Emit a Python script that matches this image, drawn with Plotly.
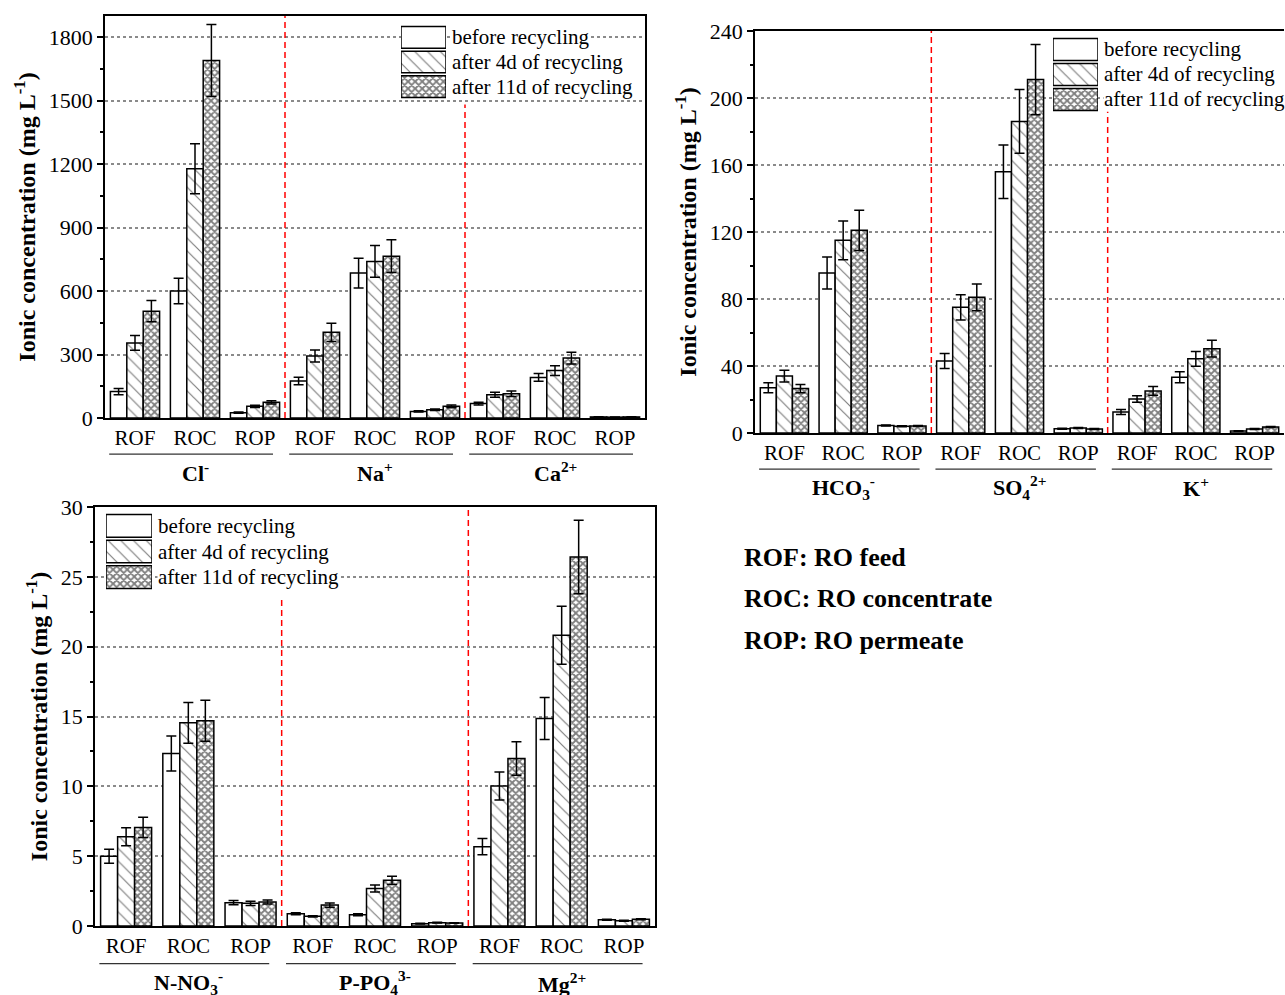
import plotly.graph_objects as go

W, H = 1285, 995
FONT = "Liberation Serif, Times New Roman, serif"

cats = ["ROF", "ROC", "ROP"] * 3
series_names = ["before recycling", "after 4d of recycling", "after 11d of recycling"]

# Panel 1 : Cl-, Na+, Ca2+
p1_ions = ["Cl<sup>-</sup>", "Na<sup>+</sup>", "Ca<sup>2+</sup>"]
p1_before = [125, 600, 25, 175, 685, 31, 68, 192, 5]
p1_before_err = [15, 60, 3, 18, 70, 3, 6, 18, 1]
p1_4d = [355, 1178, 55, 293, 740, 39, 110, 224, 4]
p1_4d_err = [35, 118, 5, 28, 75, 4, 12, 23, 1]
p1_11d = [505, 1690, 74, 405, 765, 55, 115, 283, 5]
p1_11d_err = [50, 170, 8, 43, 77, 6, 13, 28, 1]

# Panel 2 : HCO3-, SO4, K+
p2_ions = ["HCO<sub>3</sub><sup>-</sup>", "SO<sub>4</sub><sup>2+</sup>", "K<sup>+</sup>"]
p2_before = [27, 95.5, 4.5, 43, 156, 2.6, 12.6, 33.3, 1.2]
p2_before_err = [3, 9.5, 0.3, 4.5, 16, 0.3, 1.5, 3.3, 0.2]
p2_4d = [34, 115, 4.0, 75, 186, 3.0, 20.3, 44.3, 2.4]
p2_4d_err = [3.5, 11.5, 0.3, 7.5, 19, 0.3, 2, 4.4, 0.3]
p2_11d = [26.5, 121, 4.2, 81, 211, 2.4, 25.1, 50.3, 3.6]
p2_11d_err = [2.5, 12, 0.3, 8, 21, 0.3, 2.6, 5, 0.3]

# Panel 3 : N-NO3-, P-PO4 3-, Mg2+
p3_ions = ["N-NO<sub>3</sub><sup>-</sup>", "P-PO<sub>4</sub><sup>3-</sup>", "Mg<sup>2+</sup>"]
p3_before = [5.0, 12.35, 1.67, 0.88, 0.81, 0.17, 5.68, 14.86, 0.45]
p3_before_err = [0.5, 1.25, 0.15, 0.07, 0.07, 0.02, 0.58, 1.5, 0.04]
p3_4d = [6.39, 14.55, 1.62, 0.69, 2.69, 0.24, 10.02, 20.82, 0.38]
p3_4d_err = [0.65, 1.46, 0.15, 0.05, 0.25, 0.02, 1.0, 2.08, 0.04]
p3_11d = [7.06, 14.69, 1.72, 1.5, 3.27, 0.21, 12.0, 26.42, 0.48]
p3_11d_err = [0.72, 1.47, 0.15, 0.15, 0.3, 0.02, 1.2, 2.63, 0.04]

notes = ["ROF: RO feed", "ROC: RO concentrate", "ROP: RO permeate"]

patterns = [
    dict(shape="", bgcolor="white"),
    dict(shape="\\", size=9, solidity=0.13, fgcolor="black", bgcolor="white", fillmode="overlay"),
    dict(shape="x", size=5, solidity=0.6, fgcolor="black", bgcolor="white", fillmode="overlay"),
]

def px_x(px):
    return px / W

def px_y(py):
    return 1 - py / H

# panel geometry (pixel boxes): left, right, top, bottom
panels = [
    dict(box=(105, 645, 16, 418), rng=[0, 1900], dtick=300, mdtick=150, ions=p1_ions,
         data=[(p1_before, p1_before_err), (p1_4d, p1_4d_err), (p1_11d, p1_11d_err)],
         legend=(401, 446, 25, 99), red=[(2.5, 1.0), (5.5, 0.78)], mirror_y=True),
    dict(box=(755, 1284, 31, 433), rng=[0, 240], dtick=40, mdtick=20, ions=p2_ions,
         data=[(p2_before, p2_before_err), (p2_4d, p2_4d_err), (p2_11d, p2_11d_err)],
         legend=(1053, 1098, 37, 112), red=[(2.5, 1.0), (5.5, 0.80)], mirror_y=False),
    dict(box=(95, 655, 507, 926), rng=[0, 30], dtick=5, mdtick=2.5, ions=p3_ions,
         data=[(p3_before, p3_before_err), (p3_4d, p3_4d_err), (p3_11d, p3_11d_err)],
         legend=(106, 152, 513, 590), red=[(2.5, 0.78), (5.5, 1.0)], mirror_y=True),
]

fig = go.Figure()
xpos = list(range(len(cats)))
layout = {}
shapes = []
annotations = []

for i, p in enumerate(panels):
    n = i + 1
    xa = "x" if n == 1 else f"x{n}"
    ya = "y" if n == 1 else f"y{n}"
    xkey = "xaxis" if n == 1 else f"xaxis{n}"
    ykey = "yaxis" if n == 1 else f"yaxis{n}"
    l, r, t, b = p["box"]
    for (vals, errs), name, pat in zip(p["data"], series_names, patterns):
        fig.add_trace(go.Bar(
            x=xpos, y=vals, name=name, xaxis=xa, yaxis=ya, showlegend=False,
            marker=dict(color="white", line=dict(color="black", width=1.5), pattern=pat),
            error_y=dict(type="data", array=errs, visible=True, color="black",
                         thickness=1.5, width=5),
        ))
    layout[xkey] = dict(
        domain=[px_x(l), px_x(r)], anchor=ya, range=[-0.5, 8.5], automargin=False,
        tickmode="array", tickvals=xpos, ticktext=cats, ticks="",
        showline=True, linecolor="black", linewidth=1.5, mirror=True,
        showgrid=False, zeroline=False,
        tickfont=dict(family=FONT, size=21, color="black"),
    )
    layout[ykey] = dict(
        domain=[px_y(b), px_y(t)], anchor=xa, range=p["rng"], dtick=p["dtick"],
        automargin=False,
        ticks="outside", ticklen=6, tickwidth=1.5, tickcolor="black",
        minor=dict(dtick=p["mdtick"], ticks="outside", ticklen=3, tickwidth=1.5,
                   tickcolor="black", showgrid=False),
        showline=True, linecolor="black", linewidth=1.5, mirror=p["mirror_y"],
        showgrid=True, gridcolor="#8a8a8a", gridwidth=1.5, griddash="dot",
        zeroline=False,
        tickfont=dict(family=FONT, size=22, color="black"),
        title=dict(text="<b>Ionic concentration (mg L<sup>-1</sup>)</b>",
                   font=dict(family=FONT, size=24, color="black"), standoff=6),
    )
    # red dashed separators
    for xs, top in p["red"]:
        shapes.append(dict(type="line", xref=xa, yref=f"{ya} domain", x0=xs, x1=xs,
                           y0=0, y1=top, line=dict(color="red", width=1.5, dash="6px,4px"),
                           layer="above"))
    # group lines and labels
    for g, ion in enumerate(p["ions"]):
        shapes.append(dict(type="line", xref=xa, yref=f"{ya} domain",
                           x0=3 * g - 0.43, x1=3 * g + 2.3, y0=-0.09, y1=-0.09,
                           line=dict(color="#333", width=1.2)))
        annotations.append(dict(text=f"<b>{ion}</b>", xref=xa, yref=f"{ya} domain",
                                x=3 * g + 1, y=-0.135, showarrow=False,
                                xanchor="center", yanchor="middle",
                                font=dict(family=FONT, size=22, color="black")))
    # custom legend (large swatches)
    ll, lr, lt, lb = p["legend"]
    lxkey, lykey = f"xaxis{n + 3}", f"yaxis{n + 3}"
    lxa, lya = f"x{n + 3}", f"y{n + 3}"
    fig.add_trace(go.Bar(
        x=[1, 1, 1], y=[0, 1, 2], orientation="h", xaxis=lxa, yaxis=lya,
        width=0.88, showlegend=False, hoverinfo="skip",
        marker=dict(color="white", line=dict(color="black", width=1.5),
                    pattern=dict(shape=["", "\\", "x"], size=[9, 9, 5],
                                 solidity=[0.1, 0.13, 0.6], fgcolor="black",
                                 bgcolor="white", fillmode="overlay")),
    ))
    layout[lxkey] = dict(domain=[px_x(ll), px_x(lr)], anchor=lya, range=[0, 1],
                         visible=False, fixedrange=True, automargin=False)
    layout[lykey] = dict(domain=[px_y(lb), px_y(lt)], anchor=lxa, range=[2.5, -0.5],
                         visible=False, fixedrange=True, automargin=False)
    step = (lb - lt) / 3
    for k, name in enumerate(series_names):
        annotations.append(dict(text=name, xref="paper", yref="paper",
                                x=px_x(lr + 5), y=px_y(lt + step * (k + 0.5)),
                                xanchor="left", yanchor="middle", showarrow=False,
                                bgcolor="white", borderpad=0,
                                font=dict(family=FONT, size=21, color="black")))

for k, note in enumerate(notes):
    annotations.append(dict(text=f"<b>{note}</b>", xref="paper", yref="paper",
                            x=px_x(742), y=px_y(557 + 41.5 * k), xanchor="left",
                            yanchor="middle", showarrow=False,
                            font=dict(family=FONT, size=26, color="black")))

fig.update_layout(
    width=W, height=H, margin=dict(l=0, r=0, t=0, b=0, autoexpand=False),
    paper_bgcolor="white", plot_bgcolor="white",
    barmode="group", bargap=0.18, bargroupgap=0,
    showlegend=False, shapes=shapes, annotations=annotations,
    font=dict(family=FONT, color="black"),
    **layout,
)

fig.write_html(
    "out.html",
    config={"displayModeBar": False},
    post_script="document.body.style.margin='0px';document.body.style.padding='0px';"
                "document.body.style.overflow='hidden';",
)
